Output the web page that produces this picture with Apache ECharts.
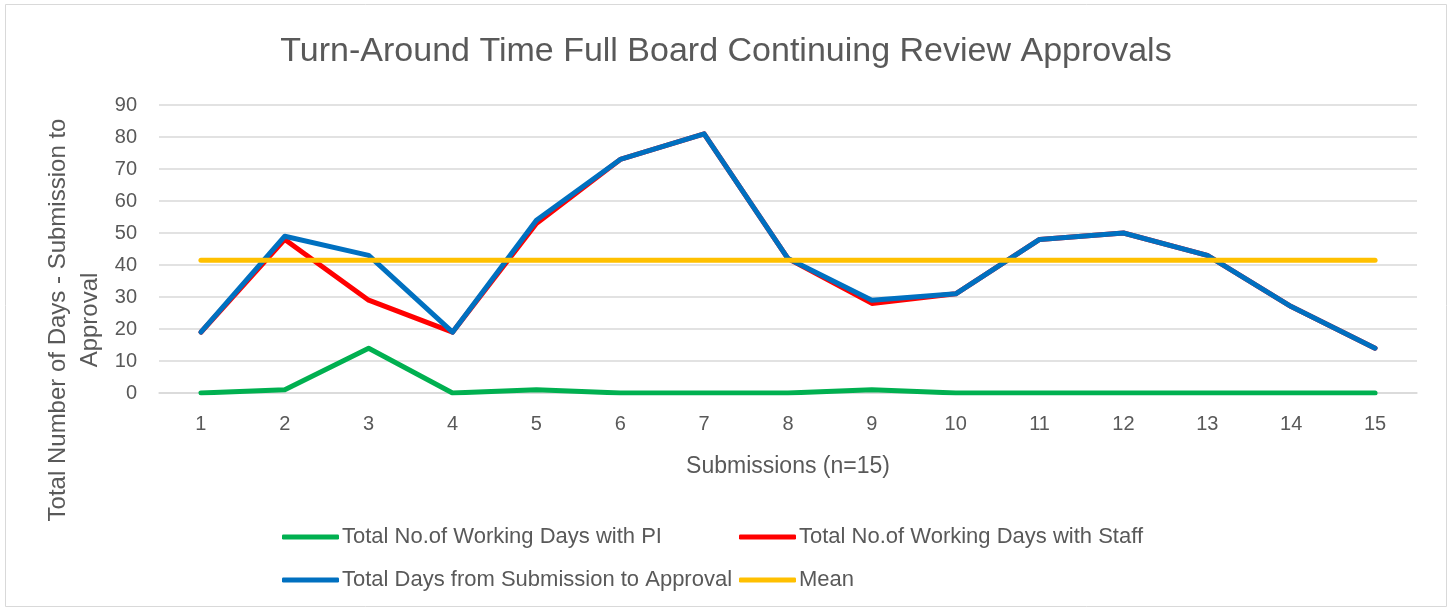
<!DOCTYPE html>
<html>
<head>
<meta charset="utf-8">
<script src="https://cdn.jsdelivr.net/npm/echarts@6/dist/echarts.min.js"></script>
<style>
  html, body { margin: 0; padding: 0; background: #fff; }
  #chart { width: 1452px; height: 610px; }
</style>
</head>
<body>
<div id="chart"></div>
<script>
// values
var submissions = ['1','2','3','4','5','6','7','8','9','10','11','12','13','14','15'];
var daysWithPI    = [0, 1, 14, 0, 1, 0, 0, 0, 1, 0, 0, 0, 0, 0, 0];
var daysWithStaff = [19, 48, 29, 19, 53, 73, 81, 42, 28, 31, 48, 50, 43, 27, 14];
var totalDays     = [19, 49, 43, 19, 54, 73, 81, 42, 29, 31, 48, 50, 43, 27, 14];
var meanDays      = [41.5, 41.5, 41.5, 41.5, 41.5, 41.5, 41.5, 41.5, 41.5, 41.5, 41.5, 41.5, 41.5, 41.5, 41.5];
var yTicks = [0, 10, 20, 30, 40, 50, 60, 70, 80, 90];

var font = 'Liberation Sans';
var textColor = '#595959';

function lineSeries(name, data, color) {
  return {
    name: name,
    type: 'line',
    data: data,
    symbol: 'none',
    lineStyle: { color: color, width: 5, cap: 'round', join: 'round' },
    itemStyle: { color: color },
    emphasis: { disabled: true }
  };
}

var legendText = { fontFamily: font, fontSize: 22, color: textColor, padding: [0, 0, 0, -2] };

var chart = echarts.init(document.getElementById('chart'));
var option = {
  backgroundColor: '#fff',
  animation: false,
  textStyle: { fontFamily: font, color: textColor },
  title: {
    text: 'Turn-Around Time Full Board Continuing Review Approvals',
    left: 'center',
    top: 30,
    textStyle: { fontFamily: font, fontSize: 34, fontWeight: 'normal', color: textColor }
  },
  graphic: [
    {
      type: 'rect',
      shape: { x: 5.5, y: 4.5, width: 1441, height: 602 },
      style: { fill: 'none', stroke: '#d9d9d9', lineWidth: 1 },
      silent: true
    },
    {
      type: 'text',
      x: 74, y: 320,
      rotation: Math.PI / 2,
      style: {
        text: 'Total Number of Days - Submission to\nApproval',
        fontFamily: font, fontSize: 24, fill: textColor,
        align: 'center', verticalAlign: 'middle', lineHeight: 32
      },
      silent: true
    }
  ],
  legend: [
    {
      left: 277, top: 521, orient: 'vertical', itemGap: 21,
      itemWidth: 57, itemHeight: 5, icon: 'roundRect',
      textStyle: legendText,
      data: ['Total No.of Working Days with PI', 'Total Days from Submission to Approval']
    },
    {
      left: 734, top: 521, orient: 'vertical', itemGap: 21,
      itemWidth: 57, itemHeight: 5, icon: 'roundRect',
      textStyle: legendText,
      data: ['Total No.of Working Days with Staff', 'Mean']
    }
  ],
  grid: { left: 159, right: 35, top: 105, bottom: 217, containLabel: false },
  xAxis: {
    type: 'category',
    data: submissions,
    boundaryGap: true,
    name: 'Submissions (n=15)',
    nameLocation: 'middle',
    nameGap: 62,
    nameTextStyle: { fontFamily: font, fontSize: 23, color: textColor },
    axisLine: { lineStyle: { color: '#d9d9d9', width: 1.5 } },
    axisTick: { show: false },
    axisLabel: { fontFamily: font, fontSize: 20, color: textColor, margin: 21 }
  },
  yAxis: {
    type: 'value',
    min: yTicks[0],
    max: yTicks[yTicks.length - 1],
    interval: 10,
    axisLine: { show: false },
    axisTick: { show: false },
    splitLine: { lineStyle: { color: '#d9d9d9', width: 1.5 } },
    axisLabel: { fontFamily: font, fontSize: 20, color: textColor, margin: 22 }
  },
  series: [
    lineSeries('Total No.of Working Days with PI', daysWithPI, '#00B050'),
    lineSeries('Total No.of Working Days with Staff', daysWithStaff, '#FF0000'),
    lineSeries('Total Days from Submission to Approval', totalDays, '#0070C0'),
    lineSeries('Mean', meanDays, '#FFC000')
  ]
};
chart.setOption(option);
</script>
</body>
</html>
